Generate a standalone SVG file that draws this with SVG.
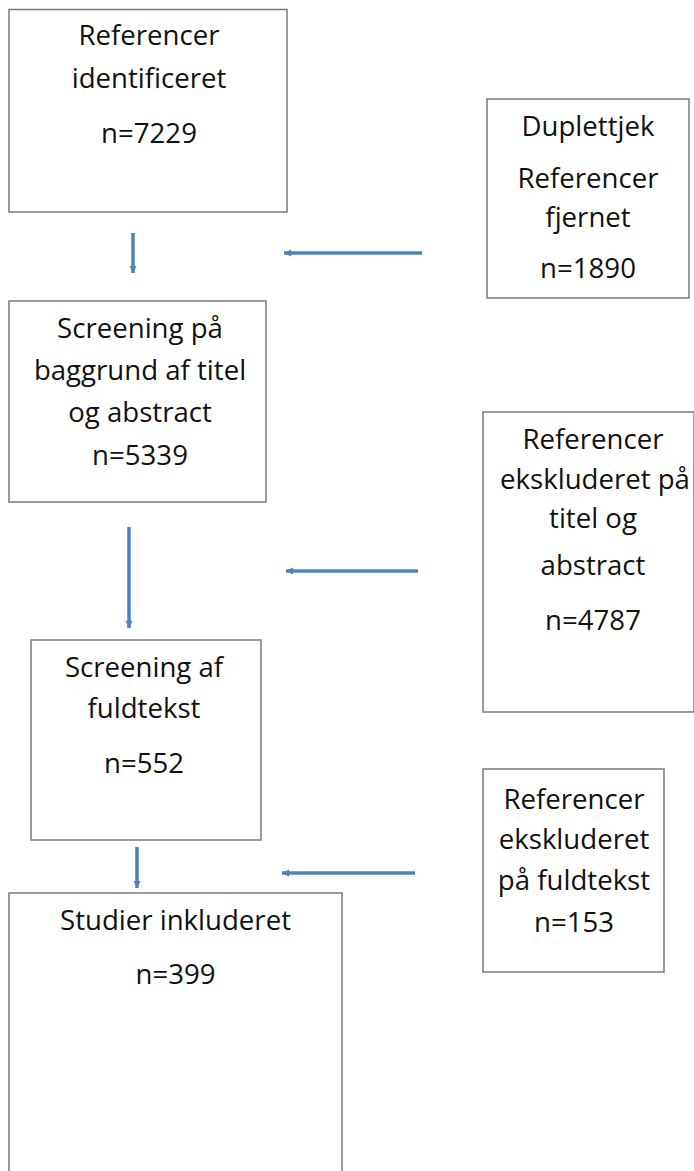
<svg xmlns="http://www.w3.org/2000/svg" width="694" height="1171" viewBox="0 0 694 1171">
<style>
.box{fill:#ffffff;stroke:#7a7a7a;stroke-width:1.5}
.t{font-family:"Open Sans","Noto Sans",sans-serif;font-size:27.6px;fill:#111111;text-anchor:middle}
.c{stroke:#4f81bd;stroke-width:3.5;fill:none;marker-end:url(#ah)}
</style>
<defs>
<marker id="ah" markerUnits="userSpaceOnUse" markerWidth="10" markerHeight="10" viewBox="0 0 10 10" refX="9" refY="5" orient="auto">
<path d="M2,1.5 L9,5 L2,8.5 Z" fill="#4f81bd"/>
</marker>
</defs>
<rect width="694" height="1171" fill="#ffffff"/>
<g id="connectors">
<path class="c" d="M133,233 L133,273"/>
<path class="c" d="M422,253 L284,253"/>
<path class="c" d="M129,527 L129,628"/>
<path class="c" d="M418,571 L286,571"/>
<path class="c" d="M137,847 L137,888"/>
<path class="c" d="M415,873 L282,873"/>
</g>
<g id="n1">
<rect class="box" x="9" y="9.5" width="278" height="202.5"/>
<text class="t" x="149" y="45">Referencer</text>
<text class="t" x="149" y="88">identificeret</text>
<text class="t" x="149" y="143">n=7229</text>
</g>
<g id="n2">
<rect class="box" x="487" y="99" width="202" height="199"/>
<text class="t" x="588" y="136">Duplettjek</text>
<text class="t" x="588" y="188">Referencer</text>
<text class="t" x="588" y="227">fjernet</text>
<text class="t" x="588" y="278">n=1890</text>
</g>
<g id="n3">
<rect class="box" x="9" y="301" width="257" height="201"/>
<text class="t" x="140" y="338">Screening på</text>
<text class="t" x="140" y="380">baggrund af titel</text>
<text class="t" x="140" y="422">og abstract</text>
<text class="t" x="140" y="465">n=5339</text>
</g>
<g id="n4">
<rect class="box" x="483" y="412" width="211" height="300"/>
<text class="t" x="593" y="449">Referencer</text>
<text class="t" x="595" y="489">ekskluderet på</text>
<text class="t" x="593" y="528">titel og</text>
<text class="t" x="593" y="575">abstract</text>
<text class="t" x="593" y="630">n=4787</text>
</g>
<g id="n5">
<rect class="box" x="31" y="640" width="230" height="200"/>
<text class="t" x="144" y="677">Screening af</text>
<text class="t" x="144" y="718">fuldtekst</text>
<text class="t" x="144" y="773">n=552</text>
</g>
<g id="n6">
<rect class="box" x="483" y="769" width="181" height="203"/>
<text class="t" x="574" y="809">Referencer</text>
<text class="t" x="574" y="849">ekskluderet</text>
<text class="t" x="574" y="890">på fuldtekst</text>
<text class="t" x="574" y="932">n=153</text>
</g>
<g id="n7">
<rect class="box" x="9" y="893" width="333" height="300"/>
<text class="t" x="175.5" y="930">Studier inkluderet</text>
<text class="t" x="175.5" y="984">n=399</text>
</g>
</svg>
